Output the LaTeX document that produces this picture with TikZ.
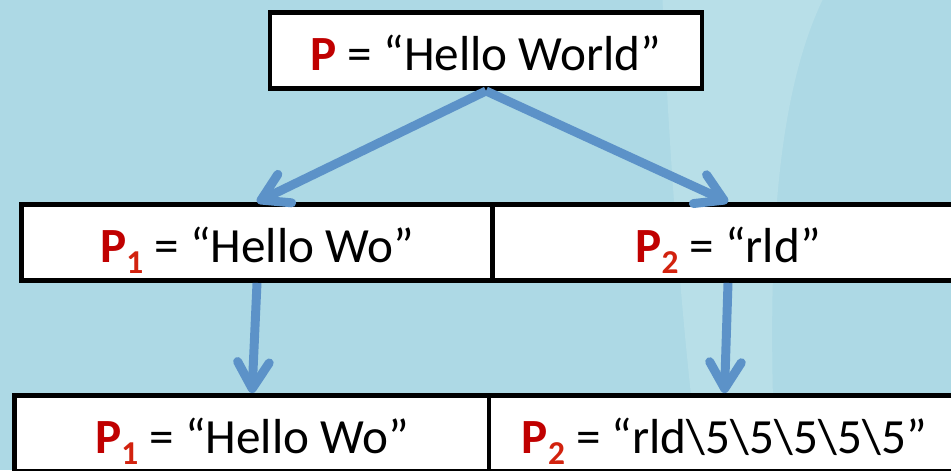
\documentclass[tikz,border=0pt]{standalone}
\usepackage{fontspec}
\setmainfont{Carlito}
\usetikzlibrary{arrows.meta}
\definecolor{bgblue}{RGB}{173,217,229}
\definecolor{bglight}{RGB}{184,223,232}
\definecolor{arrowblue}{RGB}{92,146,200}
\definecolor{pred}{RGB}{192,0,0}
\definecolor{subred}{RGB}{210,34,14}
\newcommand{\psub}[1]{\textcolor{pred}{\bfseries P}\textcolor{subred}{\raisebox{-0.22cm}{\fontsize{19}{19}\selectfont\bfseries #1}}}

\begin{document}
\begin{tikzpicture}[
  box/.style={draw=black, line width=2.8pt, fill=white, inner sep=0pt, minimum height=1.52cm,
    text height=0.9cm, text depth=0.12cm, font=\fontsize{28}{34}\selectfont},
  link/.style={draw=arrowblue, line width=5.1pt, -{Straight Barb[length=15pt,width=18pt,round]}}]
\useasboundingbox (0,0) rectangle (19.02,9.4);
\clip (0,0) rectangle (19.02,9.4);
\fill[bgblue] (0,0) rectangle (19.02,9.4);
\fill[bglight] (13.25,9.4) .. controls (13.35,7) and (13.6,3) .. (14.0,0) -- (15.5,0)
  .. controls (15.4,3) and (15.3,7) .. (16.45,9.4) -- cycle;

\node[box, minimum width=8.64cm] (p) at (9.72,8.39) {\textcolor{pred}{\bfseries P} = “Hello World”};
\node[box, minimum width=9.42cm] (p1) at (5.14,4.55) {\psub{1} = “Hello Wo”};
\node[box, minimum width=9.42cm] (p2) at (14.56,4.55) {\psub{2} = “rld”};
\node[box, minimum width=9.5cm] (q1) at (5.04,0.73) {\psub{1} = “Hello Wo”};
\node[box, minimum width=9.42cm] (q2) at (14.49,0.73)
  {\psub{2} = “rld\textbackslash5\textbackslash5\textbackslash5\textbackslash5\textbackslash5”};

\draw[link] (p.south) -- (p1.north);
\draw[link] (p.south) -- (p2.north);
\draw[link] (p1.south) -- (q1.north);
\draw[link] (p2.south) -- (q2.north);
\end{tikzpicture}
\end{document}
